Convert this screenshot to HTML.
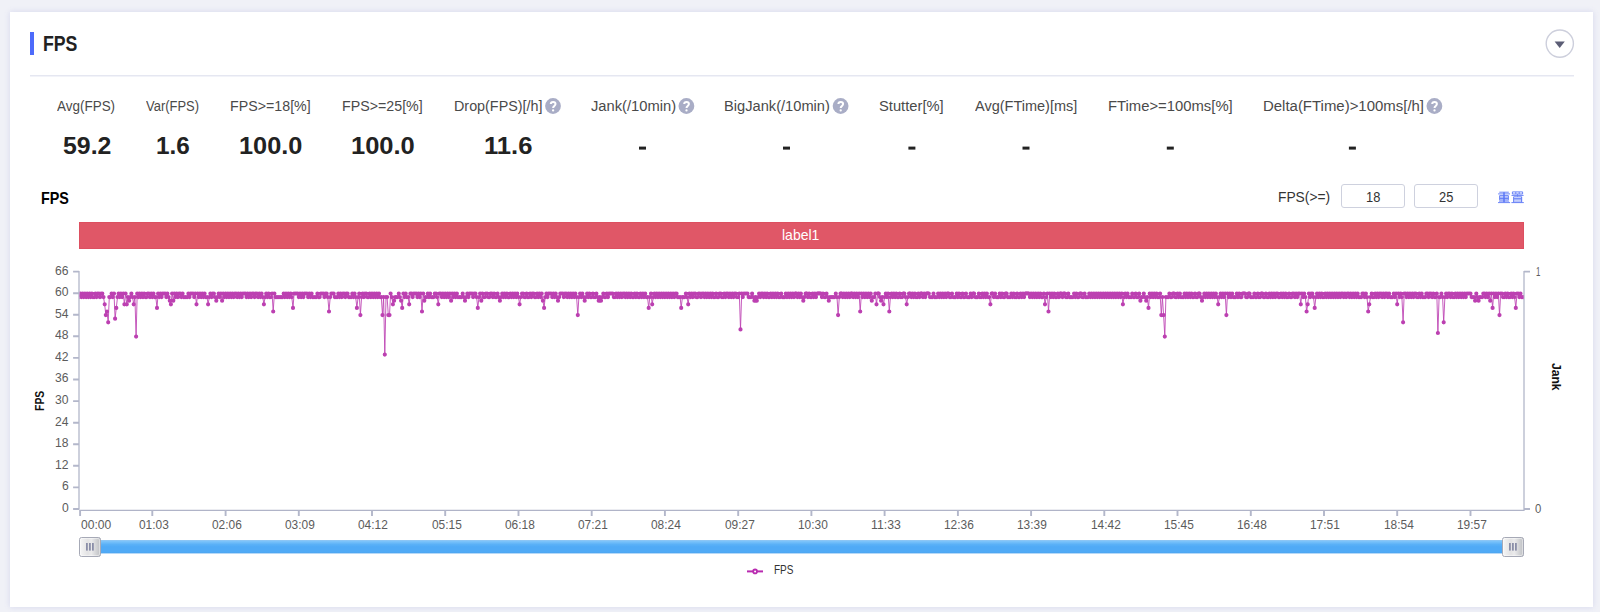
<!DOCTYPE html>
<html lang="en"><head><meta charset="utf-8"><title>FPS</title>
<style>
html,body{margin:0;padding:0}
body{width:1600px;height:612px;overflow:hidden;background:#f0f1f7;position:relative;font-family:"Liberation Sans",sans-serif}
.card{position:absolute;left:10px;top:12px;width:1583.4px;height:594.8px;background:#fff;box-shadow:0 0 6px rgba(110,115,200,.2)}
.bar{position:absolute;left:30px;top:32px;width:4px;height:23px;background:#4d6bfb}
.hr{position:absolute;left:30px;top:75px;width:1544px;height:1px;background:#e5e7f1;box-shadow:0 1px 0 #f2f3f9}
.red{position:absolute;left:79px;top:222px;width:1445px;height:26.6px;background:#e05767;box-shadow:inset 0 0 0 1px #dd4f60}
.inp{position:absolute;top:184.2px;width:62px;height:22.2px;border:1px solid #ced1de;border-radius:3px;background:#fff}
.t{position:absolute;white-space:nowrap;line-height:1;transform-origin:0 0;display:block}
.ov{position:absolute;left:0;top:0}
</style></head>
<body>
<div class="card"></div>
<div class="bar"></div>
<div class="hr"></div>
<div class="red"></div>
<div class="inp" style="left:1341px"></div>
<div class="inp" style="left:1414px"></div>
<span class="t" style="left:42.50px;top:32.98px;font-size:22px;color:#222;font-weight:700;transform:scaleX(0.8038);">FPS</span>
<span class="t" style="left:57.30px;top:98.48px;font-size:15.5px;color:#4a4a4a;transform:scaleX(0.8684);">Avg(FPS)</span>
<span class="t" style="left:146.00px;top:98.48px;font-size:15.5px;color:#4a4a4a;transform:scaleX(0.8353);">Var(FPS)</span>
<span class="t" style="left:230.30px;top:98.48px;font-size:15.5px;color:#4a4a4a;transform:scaleX(0.9182);">FPS&gt;=18[%]</span>
<span class="t" style="left:342.10px;top:98.48px;font-size:15.5px;color:#4a4a4a;transform:scaleX(0.9182);">FPS&gt;=25[%]</span>
<span class="t" style="left:453.70px;top:98.48px;font-size:15.5px;color:#4a4a4a;transform:scaleX(0.9256);">Drop(FPS)[/h]</span>
<span class="t" style="left:590.90px;top:98.48px;font-size:15.5px;color:#4a4a4a;transform:scaleX(0.9498);">Jank(/10min)</span>
<span class="t" style="left:724.40px;top:98.48px;font-size:15.5px;color:#4a4a4a;transform:scaleX(0.9455);">BigJank(/10min)</span>
<span class="t" style="left:878.75px;top:98.48px;font-size:15.5px;color:#4a4a4a;transform:scaleX(0.9506);">Stutter[%]</span>
<span class="t" style="left:974.75px;top:98.48px;font-size:15.5px;color:#4a4a4a;transform:scaleX(0.9353);">Avg(FTime)[ms]</span>
<span class="t" style="left:1107.80px;top:98.48px;font-size:15.5px;color:#4a4a4a;transform:scaleX(0.9566);">FTime&gt;=100ms[%]</span>
<span class="t" style="left:1263.40px;top:98.48px;font-size:15.5px;color:#4a4a4a;transform:scaleX(0.9643);">Delta(FTime)&gt;100ms[/h]</span>
<span class="t" style="left:62.50px;top:134.01px;font-size:24.5px;color:#222;font-weight:700;transform:scaleX(1.0149);">59.2</span>
<span class="t" style="left:156.25px;top:134.01px;font-size:24.5px;color:#222;font-weight:700;transform:scaleX(0.9908);">1.6</span>
<span class="t" style="left:239.10px;top:134.01px;font-size:24.5px;color:#222;font-weight:700;transform:scaleX(1.0340);">100.0</span>
<span class="t" style="left:350.90px;top:134.01px;font-size:24.5px;color:#222;font-weight:700;transform:scaleX(1.0406);">100.0</span>
<span class="t" style="left:483.70px;top:134.01px;font-size:24.5px;color:#222;font-weight:700;transform:scaleX(1.0465);">11.6</span>
<span class="t" style="left:40.50px;top:189.81px;font-size:17px;color:#000;font-weight:700;transform:scaleX(0.8439);">FPS</span>
<span class="t" style="left:1278.40px;top:188.90px;font-size:15px;color:#333;transform:scaleX(0.9191);">FPS(&gt;=)</span>
<span class="t" style="left:1365.90px;top:188.90px;font-size:15px;color:#333;transform:scaleX(0.8569);">18</span>
<span class="t" style="left:1439.00px;top:188.90px;font-size:15px;color:#333;transform:scaleX(0.8569);">25</span>
<span class="t" style="left:782.00px;top:227.20px;font-size:15px;color:#fff;transform:scaleX(0.9339);">label1</span>
<span class="t" style="left:61.65px;top:500.97px;font-size:13.5px;color:#5c5c5c;transform:scaleX(0.8981);">0</span>
<span class="t" style="left:61.65px;top:479.39px;font-size:13.5px;color:#5c5c5c;transform:scaleX(0.8981);">6</span>
<span class="t" style="left:54.90px;top:457.81px;font-size:13.5px;color:#5c5c5c;transform:scaleX(0.8981);">12</span>
<span class="t" style="left:54.90px;top:436.23px;font-size:13.5px;color:#5c5c5c;transform:scaleX(0.8981);">18</span>
<span class="t" style="left:54.90px;top:414.64px;font-size:13.5px;color:#5c5c5c;transform:scaleX(0.8981);">24</span>
<span class="t" style="left:54.90px;top:393.06px;font-size:13.5px;color:#5c5c5c;transform:scaleX(0.8981);">30</span>
<span class="t" style="left:54.90px;top:371.48px;font-size:13.5px;color:#5c5c5c;transform:scaleX(0.8981);">36</span>
<span class="t" style="left:54.90px;top:349.90px;font-size:13.5px;color:#5c5c5c;transform:scaleX(0.8981);">42</span>
<span class="t" style="left:54.90px;top:328.32px;font-size:13.5px;color:#5c5c5c;transform:scaleX(0.8981);">48</span>
<span class="t" style="left:54.90px;top:306.73px;font-size:13.5px;color:#5c5c5c;transform:scaleX(0.8981);">54</span>
<span class="t" style="left:54.90px;top:285.15px;font-size:13.5px;color:#5c5c5c;transform:scaleX(0.8981);">60</span>
<span class="t" style="left:54.90px;top:263.57px;font-size:13.5px;color:#5c5c5c;transform:scaleX(0.8981);">66</span>
<span class="t" style="left:1535.60px;top:264.60px;font-size:13px;color:#5c5c5c;transform:scaleX(0.6082);">1</span>
<span class="t" style="left:1535.30px;top:502.30px;font-size:13px;color:#5c5c5c;transform:scaleX(0.8708);">0</span>
<span class="t" style="left:80.90px;top:518.07px;font-size:13.5px;color:#5c5c5c;transform:scaleX(0.8936);">00:00</span>
<span class="t" style="left:138.73px;top:518.07px;font-size:13.5px;color:#5c5c5c;transform:scaleX(0.8817);">01:03</span>
<span class="t" style="left:211.96px;top:518.07px;font-size:13.5px;color:#5c5c5c;transform:scaleX(0.8817);">02:06</span>
<span class="t" style="left:285.19px;top:518.07px;font-size:13.5px;color:#5c5c5c;transform:scaleX(0.8817);">03:09</span>
<span class="t" style="left:358.42px;top:518.07px;font-size:13.5px;color:#5c5c5c;transform:scaleX(0.8817);">04:12</span>
<span class="t" style="left:431.65px;top:518.07px;font-size:13.5px;color:#5c5c5c;transform:scaleX(0.8817);">05:15</span>
<span class="t" style="left:504.88px;top:518.07px;font-size:13.5px;color:#5c5c5c;transform:scaleX(0.8817);">06:18</span>
<span class="t" style="left:578.11px;top:518.07px;font-size:13.5px;color:#5c5c5c;transform:scaleX(0.8817);">07:21</span>
<span class="t" style="left:651.34px;top:518.07px;font-size:13.5px;color:#5c5c5c;transform:scaleX(0.8817);">08:24</span>
<span class="t" style="left:724.57px;top:518.07px;font-size:13.5px;color:#5c5c5c;transform:scaleX(0.8817);">09:27</span>
<span class="t" style="left:797.80px;top:518.07px;font-size:13.5px;color:#5c5c5c;transform:scaleX(0.8817);">10:30</span>
<span class="t" style="left:871.03px;top:518.07px;font-size:13.5px;color:#5c5c5c;transform:scaleX(0.9091);">11:33</span>
<span class="t" style="left:944.26px;top:518.07px;font-size:13.5px;color:#5c5c5c;transform:scaleX(0.8817);">12:36</span>
<span class="t" style="left:1017.49px;top:518.07px;font-size:13.5px;color:#5c5c5c;transform:scaleX(0.8817);">13:39</span>
<span class="t" style="left:1090.72px;top:518.07px;font-size:13.5px;color:#5c5c5c;transform:scaleX(0.8817);">14:42</span>
<span class="t" style="left:1163.95px;top:518.07px;font-size:13.5px;color:#5c5c5c;transform:scaleX(0.8817);">15:45</span>
<span class="t" style="left:1237.18px;top:518.07px;font-size:13.5px;color:#5c5c5c;transform:scaleX(0.8817);">16:48</span>
<span class="t" style="left:1310.41px;top:518.07px;font-size:13.5px;color:#5c5c5c;transform:scaleX(0.8817);">17:51</span>
<span class="t" style="left:1383.64px;top:518.07px;font-size:13.5px;color:#5c5c5c;transform:scaleX(0.8817);">18:54</span>
<span class="t" style="left:1456.87px;top:518.07px;font-size:13.5px;color:#5c5c5c;transform:scaleX(0.8817);">19:57</span>
<span class="t" style="left:773.60px;top:562.97px;font-size:13.5px;color:#333;transform:scaleX(0.7424);">FPS</span>
<svg class="ov" width="1600" height="612" viewBox="0 0 1600 612"><defs><linearGradient id="hg" x1="0" y1="0" x2="1" y2="0"><stop offset="0" stop-color="#f6f6f6"/><stop offset=".4" stop-color="#e3e3e4"/><stop offset=".56" stop-color="#ebebec"/><stop offset="1" stop-color="#bcbec2"/></linearGradient><linearGradient id="bg" x1="0" y1="0" x2="0" y2="1"><stop offset="0" stop-color="#6cb4f0"/><stop offset=".09" stop-color="#7cc3fa"/><stop offset=".32" stop-color="#5bb1f7"/><stop offset=".5" stop-color="#50aaf6"/><stop offset=".9" stop-color="#50aaf6"/><stop offset="1" stop-color="#4ba1ea"/></linearGradient></defs><circle cx="1559.8" cy="43.6" r="13.6" fill="#fff" stroke="#cdcfdc" stroke-width="1.4"/><path d="M1554.6 41.6h10.2l-5.1 6.3z" fill="#5b5d75"/><g transform="translate(553.0 106.0)"><circle r="7.9" fill="#a9adc6"/><path d="M-2.2 -1.9 C-2.2 -4.8 2.5 -4.8 2.5 -1.9 C2.5 -0.1 0.1 0.1 0.1 2.0" fill="none" stroke="#fff" stroke-width="2"/><circle cx="0.1" cy="4.4" r="1.15" fill="#fff"/></g><g transform="translate(686.4 106.0)"><circle r="7.9" fill="#a9adc6"/><path d="M-2.2 -1.9 C-2.2 -4.8 2.5 -4.8 2.5 -1.9 C2.5 -0.1 0.1 0.1 0.1 2.0" fill="none" stroke="#fff" stroke-width="2"/><circle cx="0.1" cy="4.4" r="1.15" fill="#fff"/></g><g transform="translate(840.6 106.0)"><circle r="7.9" fill="#a9adc6"/><path d="M-2.2 -1.9 C-2.2 -4.8 2.5 -4.8 2.5 -1.9 C2.5 -0.1 0.1 0.1 0.1 2.0" fill="none" stroke="#fff" stroke-width="2"/><circle cx="0.1" cy="4.4" r="1.15" fill="#fff"/></g><g transform="translate(1434.4 106.0)"><circle r="7.9" fill="#a9adc6"/><path d="M-2.2 -1.9 C-2.2 -4.8 2.5 -4.8 2.5 -1.9 C2.5 -0.1 0.1 0.1 0.1 2.0" fill="none" stroke="#fff" stroke-width="2"/><circle cx="0.1" cy="4.4" r="1.15" fill="#fff"/></g><rect x="639.0" y="146.6" width="7" height="3" fill="#222"/><rect x="783.0" y="146.6" width="7" height="3" fill="#222"/><rect x="908.4" y="146.6" width="7" height="3" fill="#222"/><rect x="1022.5" y="146.6" width="7" height="3" fill="#222"/><rect x="1166.8" y="146.6" width="7" height="3" fill="#222"/><rect x="1348.9" y="146.6" width="7" height="3" fill="#222"/><g stroke="#b0b4c8" stroke-width="1.25" fill="none"><path d="M79 270.9V509.6M79.3 510.4H1524.6M1524 270.9V510.4"/></g><g stroke="#b3b7ca" stroke-width="1.9" fill="none"><path d="M73.1 509.0H79M73.1 487.4H79M73.1 465.8H79M73.1 444.3H79M73.1 422.7H79M73.1 401.1H79M73.1 379.5H79M73.1 357.9H79M73.1 336.3H79M73.1 314.8H79M73.1 293.2H79M73.1 271.6H79M1524 271.6H1530M1524 509.0H1530M80.1 510.4V515.9M152.3 510.4V515.9M225.6 510.4V515.9M298.8 510.4V515.9M372.0 510.4V515.9M445.2 510.4V515.9M518.5 510.4V515.9M591.7 510.4V515.9M664.9 510.4V515.9M738.2 510.4V515.9M811.4 510.4V515.9M884.6 510.4V515.9M957.9 510.4V515.9M1031.1 510.4V515.9M1104.3 510.4V515.9M1177.5 510.4V515.9M1250.8 510.4V515.9M1324.0 510.4V515.9M1397.2 510.4V515.9M1470.5 510.4V515.9"/></g><clipPath id="cp"><rect x="79.6" y="260" width="1444" height="252"/></clipPath><g clip-path="url(#cp)"><path d="M79.1 297.1 80.3 293.5 81.4 297.1 82.6 293.5 83.7 297.1 84.9 293.5 86.1 297.1 87.2 293.5 88.4 297.1 89.6 293.5 90.7 297.1 91.9 293.5 93.0 297.1 94.2 297.1 95.4 293.5 96.5 297.1 97.7 293.5 98.9 293.5 100.0 297.1 101.2 293.5 102.3 293.5 103.5 297.1 104.7 304.3 105.8 315.1 107.0 311.5 108.2 322.3 109.3 297.1 110.5 297.1 111.6 293.5 112.8 297.1 114.0 293.5 115.1 318.7 116.3 307.9 117.5 297.1 118.6 293.5 119.8 297.1 120.9 293.5 122.1 297.1 123.3 293.5 124.4 304.3 125.6 293.5 126.8 304.3 127.9 297.1 129.1 300.7 130.2 297.1 131.4 293.5 132.6 297.1 133.7 304.3 134.9 297.1 136.1 336.6 137.2 293.5 138.4 297.1 139.5 293.5 140.7 297.1 141.9 293.5 143.0 297.1 144.2 293.5 145.4 297.1 146.5 297.1 147.7 293.5 148.8 293.5 150.0 297.1 151.2 293.5 152.3 297.1 153.5 293.5 154.7 297.1 155.8 297.1 157.0 307.9 158.1 293.5 159.3 297.1 160.5 293.5 161.6 297.1 162.8 293.5 164.0 293.5 165.1 293.5 166.3 297.1 167.4 293.5 168.6 297.1 169.8 300.7 170.9 304.3 172.1 293.5 173.3 300.7 174.4 293.5 175.6 297.1 176.7 293.5 177.9 297.1 179.1 293.5 180.2 293.5 181.4 297.1 182.6 293.5 183.7 297.1 184.9 297.1 186.0 297.1 187.2 297.1 188.4 293.5 189.5 297.1 190.7 293.5 191.9 293.5 193.0 293.5 194.2 297.1 195.3 293.5 196.5 304.3 197.7 293.5 198.8 297.1 200.0 293.5 201.2 297.1 202.3 293.5 203.5 297.1 204.6 293.5 205.8 297.1 207.0 297.1 208.1 304.3 209.3 297.1 210.4 293.5 211.6 297.1 212.8 293.5 213.9 293.5 215.1 297.1 216.3 300.7 217.4 297.1 218.6 293.5 219.7 297.1 220.9 293.5 222.1 300.7 223.2 293.5 224.4 297.1 225.6 293.5 226.7 297.1 227.9 293.5 229.0 297.1 230.2 293.5 231.4 297.1 232.5 293.5 233.7 297.1 234.9 293.5 236.0 293.5 237.2 297.1 238.3 293.5 239.5 297.1 240.7 293.5 241.8 297.1 243.0 293.5 244.2 293.5 245.3 293.5 246.5 297.1 247.6 293.5 248.8 297.1 250.0 293.5 251.1 297.1 252.3 293.5 253.5 293.5 254.6 297.1 255.8 293.5 256.9 293.5 258.1 297.1 259.3 293.5 260.4 297.1 261.6 293.5 262.8 297.1 263.9 304.3 265.1 297.1 266.2 293.5 267.4 297.1 268.6 293.5 269.7 297.1 270.9 297.1 272.1 293.5 273.2 311.5 274.4 293.5 275.5 297.1 276.7 297.1 277.9 297.1 279.0 297.1 280.2 297.1 281.4 297.1 282.5 297.1 283.7 293.5 284.8 297.1 286.0 293.5 287.2 297.1 288.3 293.5 289.5 297.1 290.7 293.5 291.8 297.1 293.0 307.9 294.1 293.5 295.3 293.5 296.5 293.5 297.6 293.5 298.8 297.1 300.0 293.5 301.1 297.1 302.3 293.5 303.4 297.1 304.6 293.5 305.8 293.5 306.9 293.5 308.1 297.1 309.3 293.5 310.4 297.1 311.6 293.5 312.7 297.1 313.9 297.1 315.1 297.1 316.2 297.1 317.4 293.5 318.6 297.1 319.7 297.1 320.9 293.5 322.0 293.5 323.2 293.5 324.4 297.1 325.5 293.5 326.7 293.5 327.8 297.1 329.0 311.5 330.2 297.1 331.3 293.5 332.5 293.5 333.7 293.5 334.8 297.1 336.0 297.1 337.1 297.1 338.3 293.5 339.5 297.1 340.6 293.5 341.8 297.1 343.0 293.5 344.1 293.5 345.3 297.1 346.4 293.5 347.6 293.5 348.8 297.1 349.9 297.1 351.1 297.1 352.3 293.5 353.4 297.1 354.6 293.5 355.7 297.1 356.9 307.9 358.1 297.1 359.2 293.5 360.4 315.1 361.6 297.1 362.7 293.5 363.9 297.1 365.0 293.5 366.2 293.5 367.4 297.1 368.5 297.1 369.7 293.5 370.9 297.1 372.0 293.5 373.2 297.1 374.3 293.5 375.5 297.1 376.7 293.5 377.8 297.1 379.0 293.5 380.2 297.1 381.3 297.1 382.5 315.1 383.6 297.1 384.8 354.6 386.0 297.1 387.1 297.1 388.3 315.1 389.5 315.1 390.6 293.5 391.8 297.1 392.9 304.3 394.1 300.7 395.3 297.1 396.4 297.1 397.6 297.1 398.8 293.5 399.9 297.1 401.1 300.7 402.2 307.9 403.4 293.5 404.6 297.1 405.7 293.5 406.9 297.1 408.1 297.1 409.2 304.3 410.4 293.5 411.5 293.5 412.7 297.1 413.9 293.5 415.0 293.5 416.2 293.5 417.4 297.1 418.5 293.5 419.7 297.1 420.8 293.5 422.0 311.5 423.2 293.5 424.3 300.7 425.5 297.1 426.7 297.1 427.8 293.5 429.0 297.1 430.1 293.5 431.3 297.1 432.5 297.1 433.6 297.1 434.8 293.5 436.0 293.5 437.1 297.1 438.3 304.3 439.4 293.5 440.6 293.5 441.8 297.1 442.9 293.5 444.1 297.1 445.2 293.5 446.4 297.1 447.6 293.5 448.7 297.1 449.9 293.5 451.1 300.7 452.2 293.5 453.4 297.1 454.5 293.5 455.7 297.1 456.9 293.5 458.0 297.1 459.2 297.1 460.4 297.1 461.5 297.1 462.7 293.5 463.8 297.1 465.0 300.7 466.2 297.1 467.3 293.5 468.5 297.1 469.7 293.5 470.8 293.5 472.0 293.5 473.1 297.1 474.3 293.5 475.5 293.5 476.6 297.1 477.8 307.9 479.0 297.1 480.1 293.5 481.3 300.7 482.4 293.5 483.6 297.1 484.8 297.1 485.9 293.5 487.1 293.5 488.3 297.1 489.4 297.1 490.6 293.5 491.7 293.5 492.9 297.1 494.1 293.5 495.2 297.1 496.4 297.1 497.6 293.5 498.7 297.1 499.9 300.7 501.0 297.1 502.2 293.5 503.4 297.1 504.5 293.5 505.7 297.1 506.9 293.5 508.0 297.1 509.2 297.1 510.3 293.5 511.5 297.1 512.7 293.5 513.8 297.1 515.0 293.5 516.2 297.1 517.3 293.5 518.5 297.1 519.6 304.3 520.8 297.1 522.0 293.5 523.1 293.5 524.3 297.1 525.5 297.1 526.6 293.5 527.8 297.1 528.9 297.1 530.1 293.5 531.3 297.1 532.4 293.5 533.6 293.5 534.8 297.1 535.9 297.1 537.1 293.5 538.2 297.1 539.4 293.5 540.6 297.1 541.7 293.5 542.9 300.7 544.1 307.9 545.2 297.1 546.4 293.5 547.5 297.1 548.7 293.5 549.9 293.5 551.0 293.5 552.2 297.1 553.4 293.5 554.5 297.1 555.7 293.5 556.8 297.1 558.0 300.7 559.2 297.1 560.3 293.5 561.5 293.5 562.7 293.5 563.8 297.1 565.0 293.5 566.1 293.5 567.3 297.1 568.5 293.5 569.6 297.1 570.8 293.5 571.9 297.1 573.1 293.5 574.3 297.1 575.4 293.5 576.6 297.1 577.8 315.1 578.9 297.1 580.1 293.5 581.2 297.1 582.4 293.5 583.6 297.1 584.7 300.7 585.9 297.1 587.1 293.5 588.2 297.1 589.4 293.5 590.5 297.1 591.7 297.1 592.9 293.5 594.0 297.1 595.2 297.1 596.4 293.5 597.5 297.1 598.7 300.7 599.8 297.1 601.0 300.7 602.2 297.1 603.3 293.5 604.5 297.1 605.7 297.1 606.8 293.5 608.0 297.1 609.1 293.5 610.3 293.5 611.5 293.5 612.6 293.5 613.8 297.1 615.0 297.1 616.1 293.5 617.3 297.1 618.4 293.5 619.6 297.1 620.8 293.5 621.9 297.1 623.1 293.5 624.3 293.5 625.4 297.1 626.6 293.5 627.7 297.1 628.9 293.5 630.1 297.1 631.2 293.5 632.4 297.1 633.6 297.1 634.7 293.5 635.9 297.1 637.0 293.5 638.2 297.1 639.4 297.1 640.5 293.5 641.7 297.1 642.9 293.5 644.0 297.1 645.2 293.5 646.3 297.1 647.5 297.1 648.7 307.9 649.8 297.1 651.0 293.5 652.2 304.3 653.3 297.1 654.5 293.5 655.6 297.1 656.8 293.5 658.0 297.1 659.1 293.5 660.3 297.1 661.5 293.5 662.6 297.1 663.8 293.5 664.9 297.1 666.1 293.5 667.3 297.1 668.4 293.5 669.6 297.1 670.8 293.5 671.9 297.1 673.1 293.5 674.2 297.1 675.4 293.5 676.6 293.5 677.7 297.1 678.9 297.1 680.1 297.1 681.2 307.9 682.4 297.1 683.5 297.1 684.7 297.1 685.9 293.5 687.0 297.1 688.2 304.3 689.4 293.5 690.5 297.1 691.7 293.5 692.8 297.1 694.0 293.5 695.2 293.5 696.3 297.1 697.5 297.1 698.6 293.5 699.8 293.5 701.0 297.1 702.1 293.5 703.3 293.5 704.5 297.1 705.6 293.5 706.8 297.1 707.9 293.5 709.1 297.1 710.3 293.5 711.4 297.1 712.6 293.5 713.8 297.1 714.9 297.1 716.1 293.5 717.2 297.1 718.4 297.1 719.6 293.5 720.7 293.5 721.9 297.1 723.1 297.1 724.2 293.5 725.4 297.1 726.5 293.5 727.7 293.5 728.9 297.1 730.0 293.5 731.2 297.1 732.4 293.5 733.5 297.1 734.7 293.5 735.8 293.5 737.0 297.1 738.2 297.1 739.3 293.5 740.5 329.4 741.7 293.5 742.8 297.1 744.0 293.5 745.1 293.5 746.3 293.5 747.5 293.5 748.6 297.1 749.8 297.1 751.0 297.1 752.1 293.5 753.3 297.1 754.4 300.7 755.6 297.1 756.8 300.7 757.9 297.1 759.1 293.5 760.3 297.1 761.4 293.5 762.6 293.5 763.7 297.1 764.9 293.5 766.1 297.1 767.2 293.5 768.4 297.1 769.6 297.1 770.7 293.5 771.9 297.1 773.0 293.5 774.2 297.1 775.4 293.5 776.5 297.1 777.7 293.5 778.9 297.1 780.0 297.1 781.2 293.5 782.3 297.1 783.5 297.1 784.7 297.1 785.8 293.5 787.0 297.1 788.2 293.5 789.3 297.1 790.5 293.5 791.6 297.1 792.8 293.5 794.0 297.1 795.1 293.5 796.3 293.5 797.5 297.1 798.6 293.5 799.8 297.1 800.9 293.5 802.1 297.1 803.3 300.7 804.4 297.1 805.6 293.5 806.8 293.5 807.9 297.1 809.1 293.5 810.2 297.1 811.4 297.1 812.6 293.5 813.7 297.1 814.9 293.5 816.0 297.1 817.2 293.5 818.4 293.5 819.5 293.5 820.7 293.5 821.9 297.1 823.0 293.5 824.2 297.1 825.3 297.1 826.5 293.5 827.7 297.1 828.8 300.7 830.0 297.1 831.2 297.1 832.3 297.1 833.5 297.1 834.6 297.1 835.8 293.5 837.0 297.1 838.1 315.1 839.3 297.1 840.5 293.5 841.6 293.5 842.8 297.1 843.9 293.5 845.1 297.1 846.3 293.5 847.4 297.1 848.6 293.5 849.8 297.1 850.9 293.5 852.1 293.5 853.2 297.1 854.4 293.5 855.6 297.1 856.7 293.5 857.9 297.1 859.1 293.5 860.2 311.5 861.4 293.5 862.5 297.1 863.7 293.5 864.9 297.1 866.0 293.5 867.2 297.1 868.4 293.5 869.5 297.1 870.7 293.5 871.8 300.7 873.0 297.1 874.2 297.1 875.3 293.5 876.5 304.3 877.7 293.5 878.8 293.5 880.0 297.1 881.1 300.7 882.3 297.1 883.5 304.3 884.6 297.1 885.8 293.5 887.0 297.1 888.1 293.5 889.3 311.5 890.4 297.1 891.6 293.5 892.8 297.1 893.9 293.5 895.1 297.1 896.3 293.5 897.4 297.1 898.6 297.1 899.7 293.5 900.9 297.1 902.1 297.1 903.2 293.5 904.4 293.5 905.6 297.1 906.7 304.3 907.9 297.1 909.0 293.5 910.2 293.5 911.4 297.1 912.5 293.5 913.7 297.1 914.9 293.5 916.0 297.1 917.2 297.1 918.3 293.5 919.5 297.1 920.7 293.5 921.8 293.5 923.0 297.1 924.2 293.5 925.3 297.1 926.5 293.5 927.6 293.5 928.8 293.5 930.0 297.1 931.1 297.1 932.3 297.1 933.5 293.5 934.6 297.1 935.8 297.1 936.9 297.1 938.1 293.5 939.3 297.1 940.4 293.5 941.6 297.1 942.7 293.5 943.9 297.1 945.1 293.5 946.2 297.1 947.4 293.5 948.6 293.5 949.7 297.1 950.9 297.1 952.0 293.5 953.2 297.1 954.4 297.1 955.5 297.1 956.7 293.5 957.9 297.1 959.0 293.5 960.2 297.1 961.3 297.1 962.5 293.5 963.7 297.1 964.8 297.1 966.0 293.5 967.2 297.1 968.3 297.1 969.5 297.1 970.6 293.5 971.8 297.1 973.0 293.5 974.1 293.5 975.3 297.1 976.5 297.1 977.6 297.1 978.8 293.5 979.9 297.1 981.1 297.1 982.3 293.5 983.4 297.1 984.6 293.5 985.8 297.1 986.9 293.5 988.1 297.1 989.2 297.1 990.4 304.3 991.6 293.5 992.7 293.5 993.9 297.1 995.1 293.5 996.2 297.1 997.4 297.1 998.5 297.1 999.7 293.5 1000.9 297.1 1002.0 293.5 1003.2 297.1 1004.4 297.1 1005.5 293.5 1006.7 293.5 1007.8 297.1 1009.0 297.1 1010.2 297.1 1011.3 293.5 1012.5 297.1 1013.7 293.5 1014.8 297.1 1016.0 297.1 1017.1 293.5 1018.3 297.1 1019.5 297.1 1020.6 293.5 1021.8 297.1 1023.0 293.5 1024.1 297.1 1025.3 293.5 1026.4 293.5 1027.6 293.5 1028.8 293.5 1029.9 297.1 1031.1 293.5 1032.3 297.1 1033.4 293.5 1034.6 297.1 1035.7 293.5 1036.9 297.1 1038.1 293.5 1039.2 297.1 1040.4 293.5 1041.6 297.1 1042.7 297.1 1043.9 293.5 1045.0 304.3 1046.2 297.1 1047.4 293.5 1048.5 311.5 1049.7 293.5 1050.9 297.1 1052.0 293.5 1053.2 297.1 1054.3 293.5 1055.5 297.1 1056.7 297.1 1057.8 293.5 1059.0 297.1 1060.1 293.5 1061.3 293.5 1062.5 297.1 1063.6 293.5 1064.8 293.5 1066.0 297.1 1067.1 297.1 1068.3 293.5 1069.4 297.1 1070.6 297.1 1071.8 297.1 1072.9 297.1 1074.1 293.5 1075.3 297.1 1076.4 293.5 1077.6 297.1 1078.7 297.1 1079.9 293.5 1081.1 293.5 1082.2 297.1 1083.4 297.1 1084.6 293.5 1085.7 297.1 1086.9 297.1 1088.0 297.1 1089.2 293.5 1090.4 297.1 1091.5 293.5 1092.7 297.1 1093.9 293.5 1095.0 297.1 1096.2 293.5 1097.3 297.1 1098.5 293.5 1099.7 297.1 1100.8 293.5 1102.0 297.1 1103.2 293.5 1104.3 297.1 1105.5 293.5 1106.6 297.1 1107.8 293.5 1109.0 297.1 1110.1 293.5 1111.3 297.1 1112.5 293.5 1113.6 297.1 1114.8 293.5 1115.9 297.1 1117.1 293.5 1118.3 297.1 1119.4 293.5 1120.6 297.1 1121.8 293.5 1122.9 304.3 1124.1 297.1 1125.2 293.5 1126.4 297.1 1127.6 293.5 1128.7 297.1 1129.9 297.1 1131.1 297.1 1132.2 293.5 1133.4 297.1 1134.5 297.1 1135.7 293.5 1136.9 297.1 1138.0 297.1 1139.2 293.5 1140.4 300.7 1141.5 297.1 1142.7 297.1 1143.8 293.5 1145.0 297.1 1146.2 300.7 1147.3 297.1 1148.5 307.9 1149.7 293.5 1150.8 297.1 1152.0 293.5 1153.1 297.1 1154.3 293.5 1155.5 297.1 1156.6 293.5 1157.8 297.1 1159.0 297.1 1160.1 293.5 1161.3 315.1 1162.4 297.1 1163.6 315.1 1164.8 336.6 1165.9 297.1 1167.1 297.1 1168.3 297.1 1169.4 293.5 1170.6 297.1 1171.7 297.1 1172.9 293.5 1174.1 293.5 1175.2 297.1 1176.4 297.1 1177.5 293.5 1178.7 297.1 1179.9 293.5 1181.0 297.1 1182.2 297.1 1183.4 297.1 1184.5 293.5 1185.7 297.1 1186.8 293.5 1188.0 297.1 1189.2 293.5 1190.3 297.1 1191.5 293.5 1192.7 297.1 1193.8 297.1 1195.0 293.5 1196.1 297.1 1197.3 297.1 1198.5 293.5 1199.6 293.5 1200.8 297.1 1202.0 300.7 1203.1 297.1 1204.3 293.5 1205.4 297.1 1206.6 293.5 1207.8 297.1 1208.9 293.5 1210.1 297.1 1211.3 293.5 1212.4 297.1 1213.6 293.5 1214.7 297.1 1215.9 293.5 1217.1 297.1 1218.2 304.3 1219.4 297.1 1220.6 293.5 1221.7 297.1 1222.9 293.5 1224.0 297.1 1225.2 293.5 1226.4 315.1 1227.5 293.5 1228.7 297.1 1229.9 293.5 1231.0 297.1 1232.2 293.5 1233.3 297.1 1234.5 297.1 1235.7 297.1 1236.8 293.5 1238.0 297.1 1239.2 293.5 1240.3 297.1 1241.5 297.1 1242.6 293.5 1243.8 293.5 1245.0 293.5 1246.1 297.1 1247.3 297.1 1248.5 293.5 1249.6 293.5 1250.8 297.1 1251.9 297.1 1253.1 297.1 1254.3 293.5 1255.4 297.1 1256.6 297.1 1257.8 293.5 1258.9 297.1 1260.1 297.1 1261.2 293.5 1262.4 293.5 1263.6 297.1 1264.7 297.1 1265.9 293.5 1267.1 297.1 1268.2 297.1 1269.4 293.5 1270.5 297.1 1271.7 293.5 1272.9 297.1 1274.0 293.5 1275.2 297.1 1276.4 293.5 1277.5 293.5 1278.7 297.1 1279.8 297.1 1281.0 293.5 1282.2 297.1 1283.3 293.5 1284.5 297.1 1285.7 293.5 1286.8 297.1 1288.0 297.1 1289.1 293.5 1290.3 297.1 1291.5 297.1 1292.6 293.5 1293.8 293.5 1295.0 297.1 1296.1 293.5 1297.3 297.1 1298.4 293.5 1299.6 293.5 1300.8 304.3 1301.9 293.5 1303.1 297.1 1304.2 293.5 1305.4 297.1 1306.6 311.5 1307.7 304.3 1308.9 293.5 1310.1 297.1 1311.2 293.5 1312.4 293.5 1313.5 297.1 1314.7 307.9 1315.9 297.1 1317.0 293.5 1318.2 297.1 1319.4 293.5 1320.5 297.1 1321.7 293.5 1322.8 297.1 1324.0 297.1 1325.2 293.5 1326.3 297.1 1327.5 293.5 1328.7 297.1 1329.8 293.5 1331.0 297.1 1332.1 293.5 1333.3 297.1 1334.5 293.5 1335.6 297.1 1336.8 293.5 1338.0 297.1 1339.1 293.5 1340.3 297.1 1341.4 293.5 1342.6 293.5 1343.8 297.1 1344.9 293.5 1346.1 297.1 1347.3 293.5 1348.4 293.5 1349.6 297.1 1350.7 293.5 1351.9 297.1 1353.1 293.5 1354.2 297.1 1355.4 293.5 1356.6 297.1 1357.7 293.5 1358.9 297.1 1360.0 297.1 1361.2 297.1 1362.4 293.5 1363.5 293.5 1364.7 297.1 1365.9 293.5 1367.0 297.1 1368.2 311.5 1369.3 304.3 1370.5 297.1 1371.7 293.5 1372.8 297.1 1374.0 297.1 1375.2 293.5 1376.3 297.1 1377.5 293.5 1378.6 297.1 1379.8 293.5 1381.0 293.5 1382.1 297.1 1383.3 293.5 1384.5 297.1 1385.6 293.5 1386.8 293.5 1387.9 297.1 1389.1 293.5 1390.3 297.1 1391.4 297.1 1392.6 297.1 1393.8 293.5 1394.9 297.1 1396.1 293.5 1397.2 304.3 1398.4 293.5 1399.6 297.1 1400.7 293.5 1401.9 297.1 1403.1 322.3 1404.2 293.5 1405.4 293.5 1406.5 297.1 1407.7 293.5 1408.9 297.1 1410.0 293.5 1411.2 297.1 1412.4 293.5 1413.5 297.1 1414.7 293.5 1415.8 293.5 1417.0 297.1 1418.2 297.1 1419.3 293.5 1420.5 297.1 1421.7 293.5 1422.8 297.1 1424.0 297.1 1425.1 297.1 1426.3 293.5 1427.5 293.5 1428.6 297.1 1429.8 293.5 1430.9 293.5 1432.1 297.1 1433.3 293.5 1434.4 297.1 1435.6 297.1 1436.8 293.5 1437.9 333.0 1439.1 297.1 1440.2 297.1 1441.4 293.5 1442.6 297.1 1443.7 322.3 1444.9 297.1 1446.1 293.5 1447.2 297.1 1448.4 293.5 1449.5 293.5 1450.7 297.1 1451.9 293.5 1453.0 297.1 1454.2 297.1 1455.4 293.5 1456.5 297.1 1457.7 293.5 1458.8 297.1 1460.0 293.5 1461.2 297.1 1462.3 293.5 1463.5 297.1 1464.7 293.5 1465.8 297.1 1467.0 293.5 1468.1 293.5 1469.3 293.5 1470.5 293.5 1471.6 297.1 1472.8 297.1 1474.0 297.1 1475.1 300.7 1476.3 293.5 1477.4 297.1 1478.6 300.7 1479.8 297.1 1480.9 297.1 1482.1 297.1 1483.3 293.5 1484.4 293.5 1485.6 297.1 1486.7 293.5 1487.9 297.1 1489.1 293.5 1490.2 300.7 1491.4 293.5 1492.6 307.9 1493.7 293.5 1494.9 297.1 1496.0 293.5 1497.2 297.1 1498.4 293.5 1499.5 315.1 1500.7 293.5 1501.9 293.5 1503.0 297.1 1504.2 297.1 1505.3 293.5 1506.5 297.1 1507.7 293.5 1508.8 297.1 1510.0 297.1 1511.2 293.5 1512.3 297.1 1513.5 293.5 1514.6 297.1 1515.8 307.9 1517.0 293.5 1518.1 293.5 1519.3 297.1 1520.5 293.5 1521.6 297.1 1522.8 297.1 1523.9 297.1" fill="none" stroke="#bc40b1" stroke-width="1" stroke-linejoin="round" stroke-opacity=".85"/><path d="M79.1 297.1h0M80.3 293.5h0M81.4 297.1h0M82.6 293.5h0M83.7 297.1h0M84.9 293.5h0M86.1 297.1h0M87.2 293.5h0M88.4 297.1h0M89.6 293.5h0M90.7 297.1h0M91.9 293.5h0M93.0 297.1h0M94.2 297.1h0M95.4 293.5h0M96.5 297.1h0M97.7 293.5h0M98.9 293.5h0M100.0 297.1h0M101.2 293.5h0M102.3 293.5h0M103.5 297.1h0M104.7 304.3h0M105.8 315.1h0M107.0 311.5h0M108.2 322.3h0M109.3 297.1h0M110.5 297.1h0M111.6 293.5h0M112.8 297.1h0M114.0 293.5h0M115.1 318.7h0M116.3 307.9h0M117.5 297.1h0M118.6 293.5h0M119.8 297.1h0M120.9 293.5h0M122.1 297.1h0M123.3 293.5h0M124.4 304.3h0M125.6 293.5h0M126.8 304.3h0M127.9 297.1h0M129.1 300.7h0M130.2 297.1h0M131.4 293.5h0M132.6 297.1h0M133.7 304.3h0M134.9 297.1h0M136.1 336.6h0M137.2 293.5h0M138.4 297.1h0M139.5 293.5h0M140.7 297.1h0M141.9 293.5h0M143.0 297.1h0M144.2 293.5h0M145.4 297.1h0M146.5 297.1h0M147.7 293.5h0M148.8 293.5h0M150.0 297.1h0M151.2 293.5h0M152.3 297.1h0M153.5 293.5h0M154.7 297.1h0M155.8 297.1h0M157.0 307.9h0M158.1 293.5h0M159.3 297.1h0M160.5 293.5h0M161.6 297.1h0M162.8 293.5h0M164.0 293.5h0M165.1 293.5h0M166.3 297.1h0M167.4 293.5h0M168.6 297.1h0M169.8 300.7h0M170.9 304.3h0M172.1 293.5h0M173.3 300.7h0M174.4 293.5h0M175.6 297.1h0M176.7 293.5h0M177.9 297.1h0M179.1 293.5h0M180.2 293.5h0M181.4 297.1h0M182.6 293.5h0M183.7 297.1h0M184.9 297.1h0M186.0 297.1h0M187.2 297.1h0M188.4 293.5h0M189.5 297.1h0M190.7 293.5h0M191.9 293.5h0M193.0 293.5h0M194.2 297.1h0M195.3 293.5h0M196.5 304.3h0M197.7 293.5h0M198.8 297.1h0M200.0 293.5h0M201.2 297.1h0M202.3 293.5h0M203.5 297.1h0M204.6 293.5h0M205.8 297.1h0M207.0 297.1h0M208.1 304.3h0M209.3 297.1h0M210.4 293.5h0M211.6 297.1h0M212.8 293.5h0M213.9 293.5h0M215.1 297.1h0M216.3 300.7h0M217.4 297.1h0M218.6 293.5h0M219.7 297.1h0M220.9 293.5h0M222.1 300.7h0M223.2 293.5h0M224.4 297.1h0M225.6 293.5h0M226.7 297.1h0M227.9 293.5h0M229.0 297.1h0M230.2 293.5h0M231.4 297.1h0M232.5 293.5h0M233.7 297.1h0M234.9 293.5h0M236.0 293.5h0M237.2 297.1h0M238.3 293.5h0M239.5 297.1h0M240.7 293.5h0M241.8 297.1h0M243.0 293.5h0M244.2 293.5h0M245.3 293.5h0M246.5 297.1h0M247.6 293.5h0M248.8 297.1h0M250.0 293.5h0M251.1 297.1h0M252.3 293.5h0M253.5 293.5h0M254.6 297.1h0M255.8 293.5h0M256.9 293.5h0M258.1 297.1h0M259.3 293.5h0M260.4 297.1h0M261.6 293.5h0M262.8 297.1h0M263.9 304.3h0M265.1 297.1h0M266.2 293.5h0M267.4 297.1h0M268.6 293.5h0M269.7 297.1h0M270.9 297.1h0M272.1 293.5h0M273.2 311.5h0M274.4 293.5h0M275.5 297.1h0M276.7 297.1h0M277.9 297.1h0M279.0 297.1h0M280.2 297.1h0M281.4 297.1h0M282.5 297.1h0M283.7 293.5h0M284.8 297.1h0M286.0 293.5h0M287.2 297.1h0M288.3 293.5h0M289.5 297.1h0M290.7 293.5h0M291.8 297.1h0M293.0 307.9h0M294.1 293.5h0M295.3 293.5h0M296.5 293.5h0M297.6 293.5h0M298.8 297.1h0M300.0 293.5h0M301.1 297.1h0M302.3 293.5h0M303.4 297.1h0M304.6 293.5h0M305.8 293.5h0M306.9 293.5h0M308.1 297.1h0M309.3 293.5h0M310.4 297.1h0M311.6 293.5h0M312.7 297.1h0M313.9 297.1h0M315.1 297.1h0M316.2 297.1h0M317.4 293.5h0M318.6 297.1h0M319.7 297.1h0M320.9 293.5h0M322.0 293.5h0M323.2 293.5h0M324.4 297.1h0M325.5 293.5h0M326.7 293.5h0M327.8 297.1h0M329.0 311.5h0M330.2 297.1h0M331.3 293.5h0M332.5 293.5h0M333.7 293.5h0M334.8 297.1h0M336.0 297.1h0M337.1 297.1h0M338.3 293.5h0M339.5 297.1h0M340.6 293.5h0M341.8 297.1h0M343.0 293.5h0M344.1 293.5h0M345.3 297.1h0M346.4 293.5h0M347.6 293.5h0M348.8 297.1h0M349.9 297.1h0M351.1 297.1h0M352.3 293.5h0M353.4 297.1h0M354.6 293.5h0M355.7 297.1h0M356.9 307.9h0M358.1 297.1h0M359.2 293.5h0M360.4 315.1h0M361.6 297.1h0M362.7 293.5h0M363.9 297.1h0M365.0 293.5h0M366.2 293.5h0M367.4 297.1h0M368.5 297.1h0M369.7 293.5h0M370.9 297.1h0M372.0 293.5h0M373.2 297.1h0M374.3 293.5h0M375.5 297.1h0M376.7 293.5h0M377.8 297.1h0M379.0 293.5h0M380.2 297.1h0M381.3 297.1h0M382.5 315.1h0M383.6 297.1h0M384.8 354.6h0M386.0 297.1h0M387.1 297.1h0M388.3 315.1h0M389.5 315.1h0M390.6 293.5h0M391.8 297.1h0M392.9 304.3h0M394.1 300.7h0M395.3 297.1h0M396.4 297.1h0M397.6 297.1h0M398.8 293.5h0M399.9 297.1h0M401.1 300.7h0M402.2 307.9h0M403.4 293.5h0M404.6 297.1h0M405.7 293.5h0M406.9 297.1h0M408.1 297.1h0M409.2 304.3h0M410.4 293.5h0M411.5 293.5h0M412.7 297.1h0M413.9 293.5h0M415.0 293.5h0M416.2 293.5h0M417.4 297.1h0M418.5 293.5h0M419.7 297.1h0M420.8 293.5h0M422.0 311.5h0M423.2 293.5h0M424.3 300.7h0M425.5 297.1h0M426.7 297.1h0M427.8 293.5h0M429.0 297.1h0M430.1 293.5h0M431.3 297.1h0M432.5 297.1h0M433.6 297.1h0M434.8 293.5h0M436.0 293.5h0M437.1 297.1h0M438.3 304.3h0M439.4 293.5h0M440.6 293.5h0M441.8 297.1h0M442.9 293.5h0M444.1 297.1h0M445.2 293.5h0M446.4 297.1h0M447.6 293.5h0M448.7 297.1h0M449.9 293.5h0M451.1 300.7h0M452.2 293.5h0M453.4 297.1h0M454.5 293.5h0M455.7 297.1h0M456.9 293.5h0M458.0 297.1h0M459.2 297.1h0M460.4 297.1h0M461.5 297.1h0M462.7 293.5h0M463.8 297.1h0M465.0 300.7h0M466.2 297.1h0M467.3 293.5h0M468.5 297.1h0M469.7 293.5h0M470.8 293.5h0M472.0 293.5h0M473.1 297.1h0M474.3 293.5h0M475.5 293.5h0M476.6 297.1h0M477.8 307.9h0M479.0 297.1h0M480.1 293.5h0M481.3 300.7h0M482.4 293.5h0M483.6 297.1h0M484.8 297.1h0M485.9 293.5h0M487.1 293.5h0M488.3 297.1h0M489.4 297.1h0M490.6 293.5h0M491.7 293.5h0M492.9 297.1h0M494.1 293.5h0M495.2 297.1h0M496.4 297.1h0M497.6 293.5h0M498.7 297.1h0M499.9 300.7h0M501.0 297.1h0M502.2 293.5h0M503.4 297.1h0M504.5 293.5h0M505.7 297.1h0M506.9 293.5h0M508.0 297.1h0M509.2 297.1h0M510.3 293.5h0M511.5 297.1h0M512.7 293.5h0M513.8 297.1h0M515.0 293.5h0M516.2 297.1h0M517.3 293.5h0M518.5 297.1h0M519.6 304.3h0M520.8 297.1h0M522.0 293.5h0M523.1 293.5h0M524.3 297.1h0M525.5 297.1h0M526.6 293.5h0M527.8 297.1h0M528.9 297.1h0M530.1 293.5h0M531.3 297.1h0M532.4 293.5h0M533.6 293.5h0M534.8 297.1h0M535.9 297.1h0M537.1 293.5h0M538.2 297.1h0M539.4 293.5h0M540.6 297.1h0M541.7 293.5h0M542.9 300.7h0M544.1 307.9h0M545.2 297.1h0M546.4 293.5h0M547.5 297.1h0M548.7 293.5h0M549.9 293.5h0M551.0 293.5h0M552.2 297.1h0M553.4 293.5h0M554.5 297.1h0M555.7 293.5h0M556.8 297.1h0M558.0 300.7h0M559.2 297.1h0M560.3 293.5h0M561.5 293.5h0M562.7 293.5h0M563.8 297.1h0M565.0 293.5h0M566.1 293.5h0M567.3 297.1h0M568.5 293.5h0M569.6 297.1h0M570.8 293.5h0M571.9 297.1h0M573.1 293.5h0M574.3 297.1h0M575.4 293.5h0M576.6 297.1h0M577.8 315.1h0M578.9 297.1h0M580.1 293.5h0M581.2 297.1h0M582.4 293.5h0M583.6 297.1h0M584.7 300.7h0M585.9 297.1h0M587.1 293.5h0M588.2 297.1h0M589.4 293.5h0M590.5 297.1h0M591.7 297.1h0M592.9 293.5h0M594.0 297.1h0M595.2 297.1h0M596.4 293.5h0M597.5 297.1h0M598.7 300.7h0M599.8 297.1h0M601.0 300.7h0M602.2 297.1h0M603.3 293.5h0M604.5 297.1h0M605.7 297.1h0M606.8 293.5h0M608.0 297.1h0M609.1 293.5h0M610.3 293.5h0M611.5 293.5h0M612.6 293.5h0M613.8 297.1h0M615.0 297.1h0M616.1 293.5h0M617.3 297.1h0M618.4 293.5h0M619.6 297.1h0M620.8 293.5h0M621.9 297.1h0M623.1 293.5h0M624.3 293.5h0M625.4 297.1h0M626.6 293.5h0M627.7 297.1h0M628.9 293.5h0M630.1 297.1h0M631.2 293.5h0M632.4 297.1h0M633.6 297.1h0M634.7 293.5h0M635.9 297.1h0M637.0 293.5h0M638.2 297.1h0M639.4 297.1h0M640.5 293.5h0M641.7 297.1h0M642.9 293.5h0M644.0 297.1h0M645.2 293.5h0M646.3 297.1h0M647.5 297.1h0M648.7 307.9h0M649.8 297.1h0M651.0 293.5h0M652.2 304.3h0M653.3 297.1h0M654.5 293.5h0M655.6 297.1h0M656.8 293.5h0M658.0 297.1h0M659.1 293.5h0M660.3 297.1h0M661.5 293.5h0M662.6 297.1h0M663.8 293.5h0M664.9 297.1h0M666.1 293.5h0M667.3 297.1h0M668.4 293.5h0M669.6 297.1h0M670.8 293.5h0M671.9 297.1h0M673.1 293.5h0M674.2 297.1h0M675.4 293.5h0M676.6 293.5h0M677.7 297.1h0M678.9 297.1h0M680.1 297.1h0M681.2 307.9h0M682.4 297.1h0M683.5 297.1h0M684.7 297.1h0M685.9 293.5h0M687.0 297.1h0M688.2 304.3h0M689.4 293.5h0M690.5 297.1h0M691.7 293.5h0M692.8 297.1h0M694.0 293.5h0M695.2 293.5h0M696.3 297.1h0M697.5 297.1h0M698.6 293.5h0M699.8 293.5h0M701.0 297.1h0M702.1 293.5h0M703.3 293.5h0M704.5 297.1h0M705.6 293.5h0M706.8 297.1h0M707.9 293.5h0M709.1 297.1h0M710.3 293.5h0M711.4 297.1h0M712.6 293.5h0M713.8 297.1h0M714.9 297.1h0M716.1 293.5h0M717.2 297.1h0M718.4 297.1h0M719.6 293.5h0M720.7 293.5h0M721.9 297.1h0M723.1 297.1h0M724.2 293.5h0M725.4 297.1h0M726.5 293.5h0M727.7 293.5h0M728.9 297.1h0M730.0 293.5h0M731.2 297.1h0M732.4 293.5h0M733.5 297.1h0M734.7 293.5h0M735.8 293.5h0M737.0 297.1h0M738.2 297.1h0M739.3 293.5h0M740.5 329.4h0M741.7 293.5h0M742.8 297.1h0M744.0 293.5h0M745.1 293.5h0M746.3 293.5h0M747.5 293.5h0M748.6 297.1h0M749.8 297.1h0M751.0 297.1h0M752.1 293.5h0M753.3 297.1h0M754.4 300.7h0M755.6 297.1h0M756.8 300.7h0M757.9 297.1h0M759.1 293.5h0M760.3 297.1h0M761.4 293.5h0M762.6 293.5h0M763.7 297.1h0M764.9 293.5h0M766.1 297.1h0M767.2 293.5h0M768.4 297.1h0M769.6 297.1h0M770.7 293.5h0M771.9 297.1h0M773.0 293.5h0M774.2 297.1h0M775.4 293.5h0M776.5 297.1h0M777.7 293.5h0M778.9 297.1h0M780.0 297.1h0M781.2 293.5h0M782.3 297.1h0M783.5 297.1h0M784.7 297.1h0M785.8 293.5h0M787.0 297.1h0M788.2 293.5h0M789.3 297.1h0M790.5 293.5h0M791.6 297.1h0M792.8 293.5h0M794.0 297.1h0M795.1 293.5h0M796.3 293.5h0M797.5 297.1h0M798.6 293.5h0M799.8 297.1h0M800.9 293.5h0M802.1 297.1h0M803.3 300.7h0M804.4 297.1h0M805.6 293.5h0M806.8 293.5h0M807.9 297.1h0M809.1 293.5h0M810.2 297.1h0M811.4 297.1h0M812.6 293.5h0M813.7 297.1h0M814.9 293.5h0M816.0 297.1h0M817.2 293.5h0M818.4 293.5h0M819.5 293.5h0M820.7 293.5h0M821.9 297.1h0M823.0 293.5h0M824.2 297.1h0M825.3 297.1h0M826.5 293.5h0M827.7 297.1h0M828.8 300.7h0M830.0 297.1h0M831.2 297.1h0M832.3 297.1h0M833.5 297.1h0M834.6 297.1h0M835.8 293.5h0M837.0 297.1h0M838.1 315.1h0M839.3 297.1h0M840.5 293.5h0M841.6 293.5h0M842.8 297.1h0M843.9 293.5h0M845.1 297.1h0M846.3 293.5h0M847.4 297.1h0M848.6 293.5h0M849.8 297.1h0M850.9 293.5h0M852.1 293.5h0M853.2 297.1h0M854.4 293.5h0M855.6 297.1h0M856.7 293.5h0M857.9 297.1h0M859.1 293.5h0M860.2 311.5h0M861.4 293.5h0M862.5 297.1h0M863.7 293.5h0M864.9 297.1h0M866.0 293.5h0M867.2 297.1h0M868.4 293.5h0M869.5 297.1h0M870.7 293.5h0M871.8 300.7h0M873.0 297.1h0M874.2 297.1h0M875.3 293.5h0M876.5 304.3h0M877.7 293.5h0M878.8 293.5h0M880.0 297.1h0M881.1 300.7h0M882.3 297.1h0M883.5 304.3h0M884.6 297.1h0M885.8 293.5h0M887.0 297.1h0M888.1 293.5h0M889.3 311.5h0M890.4 297.1h0M891.6 293.5h0M892.8 297.1h0M893.9 293.5h0M895.1 297.1h0M896.3 293.5h0M897.4 297.1h0M898.6 297.1h0M899.7 293.5h0M900.9 297.1h0M902.1 297.1h0M903.2 293.5h0M904.4 293.5h0M905.6 297.1h0M906.7 304.3h0M907.9 297.1h0M909.0 293.5h0M910.2 293.5h0M911.4 297.1h0M912.5 293.5h0M913.7 297.1h0M914.9 293.5h0M916.0 297.1h0M917.2 297.1h0M918.3 293.5h0M919.5 297.1h0M920.7 293.5h0M921.8 293.5h0M923.0 297.1h0M924.2 293.5h0M925.3 297.1h0M926.5 293.5h0M927.6 293.5h0M928.8 293.5h0M930.0 297.1h0M931.1 297.1h0M932.3 297.1h0M933.5 293.5h0M934.6 297.1h0M935.8 297.1h0M936.9 297.1h0M938.1 293.5h0M939.3 297.1h0M940.4 293.5h0M941.6 297.1h0M942.7 293.5h0M943.9 297.1h0M945.1 293.5h0M946.2 297.1h0M947.4 293.5h0M948.6 293.5h0M949.7 297.1h0M950.9 297.1h0M952.0 293.5h0M953.2 297.1h0M954.4 297.1h0M955.5 297.1h0M956.7 293.5h0M957.9 297.1h0M959.0 293.5h0M960.2 297.1h0M961.3 297.1h0M962.5 293.5h0M963.7 297.1h0M964.8 297.1h0M966.0 293.5h0M967.2 297.1h0M968.3 297.1h0M969.5 297.1h0M970.6 293.5h0M971.8 297.1h0M973.0 293.5h0M974.1 293.5h0M975.3 297.1h0M976.5 297.1h0M977.6 297.1h0M978.8 293.5h0M979.9 297.1h0M981.1 297.1h0M982.3 293.5h0M983.4 297.1h0M984.6 293.5h0M985.8 297.1h0M986.9 293.5h0M988.1 297.1h0M989.2 297.1h0M990.4 304.3h0M991.6 293.5h0M992.7 293.5h0M993.9 297.1h0M995.1 293.5h0M996.2 297.1h0M997.4 297.1h0M998.5 297.1h0M999.7 293.5h0M1000.9 297.1h0M1002.0 293.5h0M1003.2 297.1h0M1004.4 297.1h0M1005.5 293.5h0M1006.7 293.5h0M1007.8 297.1h0M1009.0 297.1h0M1010.2 297.1h0M1011.3 293.5h0M1012.5 297.1h0M1013.7 293.5h0M1014.8 297.1h0M1016.0 297.1h0M1017.1 293.5h0M1018.3 297.1h0M1019.5 297.1h0M1020.6 293.5h0M1021.8 297.1h0M1023.0 293.5h0M1024.1 297.1h0M1025.3 293.5h0M1026.4 293.5h0M1027.6 293.5h0M1028.8 293.5h0M1029.9 297.1h0M1031.1 293.5h0M1032.3 297.1h0M1033.4 293.5h0M1034.6 297.1h0M1035.7 293.5h0M1036.9 297.1h0M1038.1 293.5h0M1039.2 297.1h0M1040.4 293.5h0M1041.6 297.1h0M1042.7 297.1h0M1043.9 293.5h0M1045.0 304.3h0M1046.2 297.1h0M1047.4 293.5h0M1048.5 311.5h0M1049.7 293.5h0M1050.9 297.1h0M1052.0 293.5h0M1053.2 297.1h0M1054.3 293.5h0M1055.5 297.1h0M1056.7 297.1h0M1057.8 293.5h0M1059.0 297.1h0M1060.1 293.5h0M1061.3 293.5h0M1062.5 297.1h0M1063.6 293.5h0M1064.8 293.5h0M1066.0 297.1h0M1067.1 297.1h0M1068.3 293.5h0M1069.4 297.1h0M1070.6 297.1h0M1071.8 297.1h0M1072.9 297.1h0M1074.1 293.5h0M1075.3 297.1h0M1076.4 293.5h0M1077.6 297.1h0M1078.7 297.1h0M1079.9 293.5h0M1081.1 293.5h0M1082.2 297.1h0M1083.4 297.1h0M1084.6 293.5h0M1085.7 297.1h0M1086.9 297.1h0M1088.0 297.1h0M1089.2 293.5h0M1090.4 297.1h0M1091.5 293.5h0M1092.7 297.1h0M1093.9 293.5h0M1095.0 297.1h0M1096.2 293.5h0M1097.3 297.1h0M1098.5 293.5h0M1099.7 297.1h0M1100.8 293.5h0M1102.0 297.1h0M1103.2 293.5h0M1104.3 297.1h0M1105.5 293.5h0M1106.6 297.1h0M1107.8 293.5h0M1109.0 297.1h0M1110.1 293.5h0M1111.3 297.1h0M1112.5 293.5h0M1113.6 297.1h0M1114.8 293.5h0M1115.9 297.1h0M1117.1 293.5h0M1118.3 297.1h0M1119.4 293.5h0M1120.6 297.1h0M1121.8 293.5h0M1122.9 304.3h0M1124.1 297.1h0M1125.2 293.5h0M1126.4 297.1h0M1127.6 293.5h0M1128.7 297.1h0M1129.9 297.1h0M1131.1 297.1h0M1132.2 293.5h0M1133.4 297.1h0M1134.5 297.1h0M1135.7 293.5h0M1136.9 297.1h0M1138.0 297.1h0M1139.2 293.5h0M1140.4 300.7h0M1141.5 297.1h0M1142.7 297.1h0M1143.8 293.5h0M1145.0 297.1h0M1146.2 300.7h0M1147.3 297.1h0M1148.5 307.9h0M1149.7 293.5h0M1150.8 297.1h0M1152.0 293.5h0M1153.1 297.1h0M1154.3 293.5h0M1155.5 297.1h0M1156.6 293.5h0M1157.8 297.1h0M1159.0 297.1h0M1160.1 293.5h0M1161.3 315.1h0M1162.4 297.1h0M1163.6 315.1h0M1164.8 336.6h0M1165.9 297.1h0M1167.1 297.1h0M1168.3 297.1h0M1169.4 293.5h0M1170.6 297.1h0M1171.7 297.1h0M1172.9 293.5h0M1174.1 293.5h0M1175.2 297.1h0M1176.4 297.1h0M1177.5 293.5h0M1178.7 297.1h0M1179.9 293.5h0M1181.0 297.1h0M1182.2 297.1h0M1183.4 297.1h0M1184.5 293.5h0M1185.7 297.1h0M1186.8 293.5h0M1188.0 297.1h0M1189.2 293.5h0M1190.3 297.1h0M1191.5 293.5h0M1192.7 297.1h0M1193.8 297.1h0M1195.0 293.5h0M1196.1 297.1h0M1197.3 297.1h0M1198.5 293.5h0M1199.6 293.5h0M1200.8 297.1h0M1202.0 300.7h0M1203.1 297.1h0M1204.3 293.5h0M1205.4 297.1h0M1206.6 293.5h0M1207.8 297.1h0M1208.9 293.5h0M1210.1 297.1h0M1211.3 293.5h0M1212.4 297.1h0M1213.6 293.5h0M1214.7 297.1h0M1215.9 293.5h0M1217.1 297.1h0M1218.2 304.3h0M1219.4 297.1h0M1220.6 293.5h0M1221.7 297.1h0M1222.9 293.5h0M1224.0 297.1h0M1225.2 293.5h0M1226.4 315.1h0M1227.5 293.5h0M1228.7 297.1h0M1229.9 293.5h0M1231.0 297.1h0M1232.2 293.5h0M1233.3 297.1h0M1234.5 297.1h0M1235.7 297.1h0M1236.8 293.5h0M1238.0 297.1h0M1239.2 293.5h0M1240.3 297.1h0M1241.5 297.1h0M1242.6 293.5h0M1243.8 293.5h0M1245.0 293.5h0M1246.1 297.1h0M1247.3 297.1h0M1248.5 293.5h0M1249.6 293.5h0M1250.8 297.1h0M1251.9 297.1h0M1253.1 297.1h0M1254.3 293.5h0M1255.4 297.1h0M1256.6 297.1h0M1257.8 293.5h0M1258.9 297.1h0M1260.1 297.1h0M1261.2 293.5h0M1262.4 293.5h0M1263.6 297.1h0M1264.7 297.1h0M1265.9 293.5h0M1267.1 297.1h0M1268.2 297.1h0M1269.4 293.5h0M1270.5 297.1h0M1271.7 293.5h0M1272.9 297.1h0M1274.0 293.5h0M1275.2 297.1h0M1276.4 293.5h0M1277.5 293.5h0M1278.7 297.1h0M1279.8 297.1h0M1281.0 293.5h0M1282.2 297.1h0M1283.3 293.5h0M1284.5 297.1h0M1285.7 293.5h0M1286.8 297.1h0M1288.0 297.1h0M1289.1 293.5h0M1290.3 297.1h0M1291.5 297.1h0M1292.6 293.5h0M1293.8 293.5h0M1295.0 297.1h0M1296.1 293.5h0M1297.3 297.1h0M1298.4 293.5h0M1299.6 293.5h0M1300.8 304.3h0M1301.9 293.5h0M1303.1 297.1h0M1304.2 293.5h0M1305.4 297.1h0M1306.6 311.5h0M1307.7 304.3h0M1308.9 293.5h0M1310.1 297.1h0M1311.2 293.5h0M1312.4 293.5h0M1313.5 297.1h0M1314.7 307.9h0M1315.9 297.1h0M1317.0 293.5h0M1318.2 297.1h0M1319.4 293.5h0M1320.5 297.1h0M1321.7 293.5h0M1322.8 297.1h0M1324.0 297.1h0M1325.2 293.5h0M1326.3 297.1h0M1327.5 293.5h0M1328.7 297.1h0M1329.8 293.5h0M1331.0 297.1h0M1332.1 293.5h0M1333.3 297.1h0M1334.5 293.5h0M1335.6 297.1h0M1336.8 293.5h0M1338.0 297.1h0M1339.1 293.5h0M1340.3 297.1h0M1341.4 293.5h0M1342.6 293.5h0M1343.8 297.1h0M1344.9 293.5h0M1346.1 297.1h0M1347.3 293.5h0M1348.4 293.5h0M1349.6 297.1h0M1350.7 293.5h0M1351.9 297.1h0M1353.1 293.5h0M1354.2 297.1h0M1355.4 293.5h0M1356.6 297.1h0M1357.7 293.5h0M1358.9 297.1h0M1360.0 297.1h0M1361.2 297.1h0M1362.4 293.5h0M1363.5 293.5h0M1364.7 297.1h0M1365.9 293.5h0M1367.0 297.1h0M1368.2 311.5h0M1369.3 304.3h0M1370.5 297.1h0M1371.7 293.5h0M1372.8 297.1h0M1374.0 297.1h0M1375.2 293.5h0M1376.3 297.1h0M1377.5 293.5h0M1378.6 297.1h0M1379.8 293.5h0M1381.0 293.5h0M1382.1 297.1h0M1383.3 293.5h0M1384.5 297.1h0M1385.6 293.5h0M1386.8 293.5h0M1387.9 297.1h0M1389.1 293.5h0M1390.3 297.1h0M1391.4 297.1h0M1392.6 297.1h0M1393.8 293.5h0M1394.9 297.1h0M1396.1 293.5h0M1397.2 304.3h0M1398.4 293.5h0M1399.6 297.1h0M1400.7 293.5h0M1401.9 297.1h0M1403.1 322.3h0M1404.2 293.5h0M1405.4 293.5h0M1406.5 297.1h0M1407.7 293.5h0M1408.9 297.1h0M1410.0 293.5h0M1411.2 297.1h0M1412.4 293.5h0M1413.5 297.1h0M1414.7 293.5h0M1415.8 293.5h0M1417.0 297.1h0M1418.2 297.1h0M1419.3 293.5h0M1420.5 297.1h0M1421.7 293.5h0M1422.8 297.1h0M1424.0 297.1h0M1425.1 297.1h0M1426.3 293.5h0M1427.5 293.5h0M1428.6 297.1h0M1429.8 293.5h0M1430.9 293.5h0M1432.1 297.1h0M1433.3 293.5h0M1434.4 297.1h0M1435.6 297.1h0M1436.8 293.5h0M1437.9 333.0h0M1439.1 297.1h0M1440.2 297.1h0M1441.4 293.5h0M1442.6 297.1h0M1443.7 322.3h0M1444.9 297.1h0M1446.1 293.5h0M1447.2 297.1h0M1448.4 293.5h0M1449.5 293.5h0M1450.7 297.1h0M1451.9 293.5h0M1453.0 297.1h0M1454.2 297.1h0M1455.4 293.5h0M1456.5 297.1h0M1457.7 293.5h0M1458.8 297.1h0M1460.0 293.5h0M1461.2 297.1h0M1462.3 293.5h0M1463.5 297.1h0M1464.7 293.5h0M1465.8 297.1h0M1467.0 293.5h0M1468.1 293.5h0M1469.3 293.5h0M1470.5 293.5h0M1471.6 297.1h0M1472.8 297.1h0M1474.0 297.1h0M1475.1 300.7h0M1476.3 293.5h0M1477.4 297.1h0M1478.6 300.7h0M1479.8 297.1h0M1480.9 297.1h0M1482.1 297.1h0M1483.3 293.5h0M1484.4 293.5h0M1485.6 297.1h0M1486.7 293.5h0M1487.9 297.1h0M1489.1 293.5h0M1490.2 300.7h0M1491.4 293.5h0M1492.6 307.9h0M1493.7 293.5h0M1494.9 297.1h0M1496.0 293.5h0M1497.2 297.1h0M1498.4 293.5h0M1499.5 315.1h0M1500.7 293.5h0M1501.9 293.5h0M1503.0 297.1h0M1504.2 297.1h0M1505.3 293.5h0M1506.5 297.1h0M1507.7 293.5h0M1508.8 297.1h0M1510.0 297.1h0M1511.2 293.5h0M1512.3 297.1h0M1513.5 293.5h0M1514.6 297.1h0M1515.8 307.9h0M1517.0 293.5h0M1518.1 293.5h0M1519.3 297.1h0M1520.5 293.5h0M1521.6 297.1h0M1522.8 297.1h0M1523.9 297.1h0" fill="none" stroke="#bc40b1" stroke-width="4.2" stroke-linecap="round"/></g><rect x="100" y="540.2" width="1404" height="13.2" fill="url(#bg)"/><rect x="79.5" y="537.5" width="21" height="19" rx="2" fill="url(#hg)" stroke="#a6a9b6"/><rect x="80.5" y="538.5" width="19" height="17" rx="1.5" fill="none" stroke="#fff" stroke-opacity=".45"/><rect x="86.0" y="543" width="1.8" height="7.6" fill="#8a8ea8"/><rect x="89.0" y="543" width="1.8" height="7.6" fill="#8a8ea8"/><rect x="92.0" y="543" width="1.8" height="7.6" fill="#8a8ea8"/><rect x="1502.5" y="537.5" width="21" height="19" rx="2" fill="url(#hg)" stroke="#a6a9b6"/><rect x="1503.5" y="538.5" width="19" height="17" rx="1.5" fill="none" stroke="#fff" stroke-opacity=".45"/><rect x="1509.0" y="543" width="1.8" height="7.6" fill="#8a8ea8"/><rect x="1512.0" y="543" width="1.8" height="7.6" fill="#8a8ea8"/><rect x="1515.0" y="543" width="1.8" height="7.6" fill="#8a8ea8"/><path d="M747 571.4H763" stroke="#b92bb0" stroke-width="2"/><circle cx="755.1" cy="571.4" r="1.9" fill="#fff" stroke="#b92bb0" stroke-width="1.8"/><text transform="translate(43.6 411) rotate(-90)" font-family="Liberation Sans, sans-serif" font-weight="700" font-size="12.5" fill="#111" textLength="20.3" lengthAdjust="spacingAndGlyphs">FPS</text><text transform="translate(1551.9 363) rotate(90)" font-family="Liberation Sans, sans-serif" font-weight="700" font-size="12.5" fill="#111" textLength="27.6" lengthAdjust="spacingAndGlyphs">Jank</text><g id="cjk" stroke="#6a84f7" stroke-width="1" fill="none" transform="translate(1497.8 191)"><path d="M1.5 1.2H11M0.3 2.9H12.2M1.8 4.6H10.6V8.9H1.8zM1.8 6.1H10.6M1.8 7.5H10.6M1.2 10.1H11.3M0.2 11.6H12.3"/><path d="M6.2 1.2V11.2" stroke-width="1.5" stroke="#5a76f6"/><g transform="translate(13.4 0)"><path d="M1.2 0.9H11.4V3H1.2zM4.6 0.9V3M8 0.9V3M0.3 4.4H12.4M6.3 3.2V5.6M2.4 5.8H10.4V11H2.4M2.4 5.8V11.6M10.4 5.8V11.6M2.4 7.4H10.4M2.4 8.9H10.4M0.2 11.6H12.6"/></g></g></svg>
</body></html>
